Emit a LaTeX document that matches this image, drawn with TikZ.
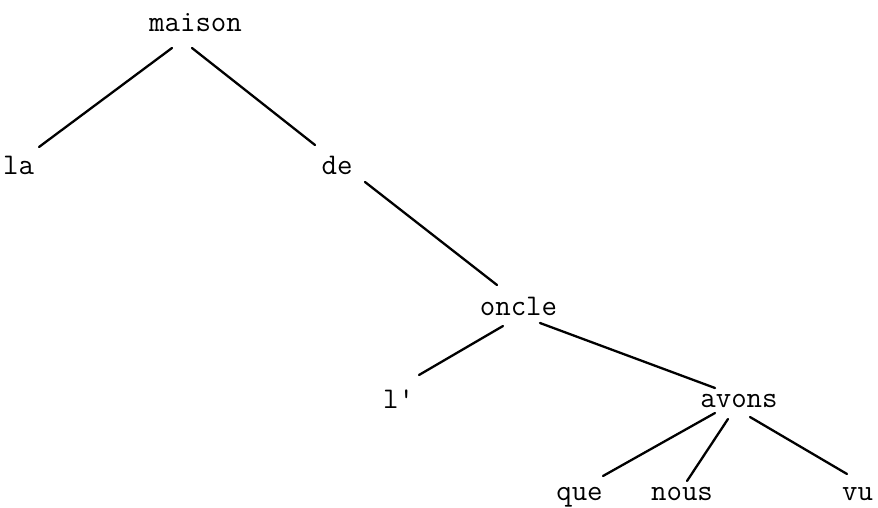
\documentclass[tikz,border=0pt]{standalone}
\usetikzlibrary{calc}
\begin{document}
\begin{tikzpicture}[x=1pt,y=-1pt,
  word/.style={anchor=base,inner sep=0pt,font=\fontsize{30}{35}\selectfont\ttfamily},
  edge/.style={line width=2.3pt,line cap=round}]
\useasboundingbox (0,0) rectangle (878,508);
\node[word] (maison) at (195.5,32) {maison};
\node[word] (la) at (18.5,175) {la};
\node[word] (de) at (337,175) {de};
\node[word] (oncle) at (518.5,315) {oncle};
\node[word] (l) at (398.5,408) {l'};
\node[word] (avons) at (739,407) {avons};
\node[word] (que) at (579.5,500) {que};
\node[word] (nous) at (682,500) {nous};
\node[word] (vu) at (857.5,500) {vu};
\draw[edge] ($(maison.base)+(-23.5,16)$) -- ($(la.base)+(20.5,-28)$);
\draw[edge] ($(maison.base)+(-3.5,16)$) -- ($(de.base)+(-22,-30)$);
\draw[edge] ($(de.base)+(28,7)$) -- ($(oncle.base)+(-21.5,-30)$);
\draw[edge] ($(oncle.base)+(-15.5,11)$) -- ($(l.base)+(20.5,-33)$);
\draw[edge] ($(oncle.base)+(21.5,8)$) -- ($(avons.base)+(-24,-19)$);
\draw[edge] ($(avons.base)+(-24,6)$) -- ($(que.base)+(23.5,-24)$);
\draw[edge] ($(avons.base)+(-11,12)$) -- ($(nous.base)+(5,-19)$);
\draw[edge] ($(avons.base)+(11,10)$) -- ($(vu.base)+(-10.5,-26)$);
\end{tikzpicture}
\end{document}
